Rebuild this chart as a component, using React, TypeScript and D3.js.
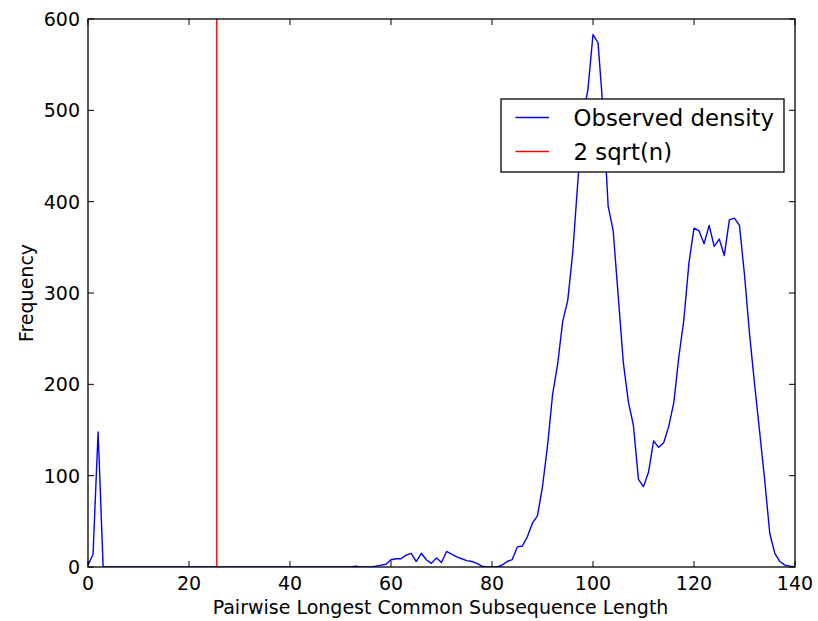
import React from "react";
import * as d3 from "d3";

const lengths: number[] = d3.range(0, 141);
const frequency: number[] = [
  2, 14, 148, 0, 0, 0, 0, 0, 0, 0,
  0, 0, 0, 0, 0, 0, 0, 0, 0, 0,
  0, 0, 0, 0, 0, 0, 0, 0, 0, 0,
  0, 0, 0, 0, 0, 0, 0, 0, 0, 0,
  0, 0, 0, 0, 0, 0, 0, 0, 0, 0,
  0, 0, 0, 1, 0, 0, 0, 1, 2, 3,
  8, 9, 9, 13, 15, 6, 15, 8, 4, 10,
  5, 17, 14, 11, 9, 7, 6, 4, 1, 0,
  0, 0, 2, 6, 8, 22, 23, 33, 48, 56,
  88, 133, 189, 222, 269, 292, 345, 422, 492, 523,
  583, 574, 500, 395, 368, 296, 224, 181, 155, 96,
  88, 104, 138, 131, 136, 154, 180, 230, 271, 333,
  371, 368, 354, 374, 351, 359, 341, 380, 382, 374,
  320, 255, 200, 148, 95, 37, 15, 6, 2, 1,
  0,
];
const sqrtLine: number = 25.5;
const xTicks: number[] = [0, 20, 40, 60, 80, 100, 120, 140];
const yTicks: number[] = [0, 100, 200, 300, 400, 500, 600];
const legendLabels: string[] = ["Observed density", "2 sqrt(n)"];
const xLabel = "Pairwise Longest Common Subsequence Length";
const yLabel = "Frequency";

const W = 818;
const H = 621;
const M = { left: 88, right: 795, top: 19, bottom: 567 };
const FONT = "'DejaVu Sans', sans-serif";
const FS = 19;
const TICK = 6;

export default function App() {
  const x = d3.scaleLinear().domain([0, 140]).range([M.left, M.right]);
  const y = d3.scaleLinear().domain([0, 600]).range([M.bottom, M.top]);
  const line = d3
    .line<number>()
    .x((_, i) => x(lengths[i]))
    .y((d) => y(d));
  const path = line(frequency) || "";

  const legendX = 501;
  const legendY = 99;
  const legendW = 283;
  const legendH = 73;
  const legendColors = ["#0000ff", "#ff0000"];

  return (
    <div style={{ position: "absolute", left: 0, top: 0 }}>
      <svg width={W} height={H} style={{ display: "block", background: "#fff" }}>
        <defs>
          <clipPath id="plotClip">
            <rect x={M.left} y={M.top} width={M.right - M.left} height={M.bottom - M.top} />
          </clipPath>
        </defs>
        <rect x={0} y={0} width={W} height={H} fill="#fff" />
        <g clipPath="url(#plotClip)">
          <path d={path} fill="none" stroke="#0000ff" strokeWidth={1.4} strokeLinejoin="round" />
          <line
            x1={x(sqrtLine)}
            x2={x(sqrtLine)}
            y1={M.top}
            y2={M.bottom}
            stroke="#ff0000"
            strokeWidth={1.4}
          />
        </g>
        {xTicks.map((t) => (
          <g key={"x" + t}>
            <line x1={x(t)} x2={x(t)} y1={M.bottom} y2={M.bottom - TICK} stroke="#000" strokeWidth={1} />
            <line x1={x(t)} x2={x(t)} y1={M.top} y2={M.top + TICK} stroke="#000" strokeWidth={1} />
            <text x={x(t)} y={589.5} textAnchor="middle" fontFamily={FONT} fontSize={FS} fill="#000">
              {t}
            </text>
          </g>
        ))}
        {yTicks.map((t) => (
          <g key={"y" + t}>
            <line x1={M.left} x2={M.left + TICK} y1={y(t)} y2={y(t)} stroke="#000" strokeWidth={1} />
            <line x1={M.right} x2={M.right - TICK} y1={y(t)} y2={y(t)} stroke="#000" strokeWidth={1} />
            <text
              x={80}
              y={y(t)}
              dy="0.36em"
              textAnchor="end"
              fontFamily={FONT}
              fontSize={FS}
              fill="#000"
            >
              {t}
            </text>
          </g>
        ))}
        <rect
          x={M.left}
          y={M.top}
          width={M.right - M.left}
          height={M.bottom - M.top}
          fill="none"
          stroke="#000"
          strokeWidth={1.3}
        />
        <text
          x={(M.left + M.right) / 2 - 1}
          y={614}
          textAnchor="middle"
          fontFamily={FONT}
          fontSize={FS}
          fill="#000"
        >
          {xLabel}
        </text>
        <text
          transform={`translate(33, ${(M.top + M.bottom) / 2}) rotate(-90)`}
          textAnchor="middle"
          fontFamily={FONT}
          fontSize={FS}
          fill="#000"
        >
          {yLabel}
        </text>
        <rect
          x={legendX}
          y={legendY}
          width={legendW}
          height={legendH}
          fill="#fff"
          stroke="#000"
          strokeWidth={1.3}
        />
        {legendLabels.map((lab, i) => (
          <g key={lab}>
            <line
              x1={515.5}
              x2={549}
              y1={117.5 + i * 34}
              y2={117.5 + i * 34}
              stroke={legendColors[i]}
              strokeWidth={1.4}
            />
            <text
              x={573.5}
              y={117.5 + i * 34}
              dy="0.36em"
              fontFamily={FONT}
              fontSize={22.8}
              fill="#000"
            >
              {lab}
            </text>
          </g>
        ))}
      </svg>
    </div>
  );
}
